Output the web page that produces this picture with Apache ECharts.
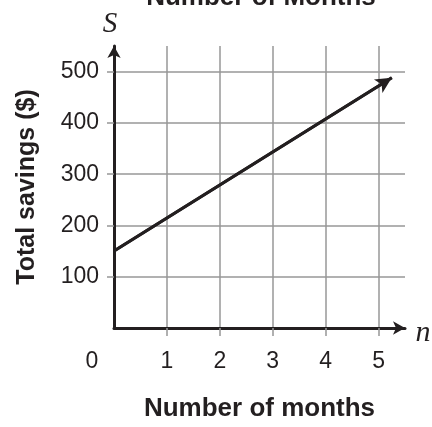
<!DOCTYPE html>
<html lang="en">
<head>
    <meta charset="UTF-8">
    <title>Number of Months</title>
    <script src="https://cdn.jsdelivr.net/npm/echarts@6/dist/echarts.min.js"></script>
    <style>
        html, body { margin: 0; padding: 0; background: #fff; }
        #main { width: 432px; height: 427px; }
    </style>
</head>
<body>
<div id="main"></div>
<script>
    // savings line: starts at 150, grows about 64 a month
    var monthValues = [0, 5.25];
    var savingsValues = [150, 488];
    var xLabelValues = [0, 1, 2, 3, 4, 5];
    var xTickValues = [1, 2, 3, 4, 5];
    var yLabelValues = [100, 200, 300, 400, 500];

    var lineData = monthValues.map(function (m, i) {
        return [m, savingsValues[i]];
    });

    var ink = '#231f20';
    var gridGray = '#979797';
    var sans = 'Liberation Sans';
    var serif = 'Liberation Serif';

    var chart = echarts.init(document.getElementById('main'));

    var option = {
        animation: false,
        grid: { left: 114, top: 46, right: 27, bottom: 90, containLabel: false },
        xAxis: {
            type: 'value',
            min: 0,
            max: 5.5,
            interval: 0.5,
            name: 'Number of months',
            nameLocation: 'middle',
            nameGap: 68,
            nameTextStyle: { fontFamily: sans, fontWeight: 'bold', fontSize: 26, color: ink },
            axisLine: {
                show: true,
                symbol: ['none', 'arrow'],
                symbolSize: [10, 12],
                lineStyle: { color: ink, width: 3 }
            },
            axisTick: {
                show: true,
                customValues: xTickValues,
                length: 8,
                lineStyle: { color: gridGray, width: 1.5 }
            },
            axisLabel: {
                customValues: xLabelValues,
                margin: 22,
                fontFamily: sans,
                fontSize: 23,
                color: ink,
                formatter: function (v) {
                    return v === 0 ? '{z|0}' : String(v);
                },
                rich: {
                    z: { fontFamily: sans, fontSize: 23, color: ink, padding: [0, 44, 0, 0] }
                }
            },
            splitLine: { show: true, lineStyle: { color: gridGray, width: 1.5 } }
        },
        yAxis: {
            type: 'value',
            min: 0,
            max: 550,
            interval: 50,
            name: 'Total savings ($)',
            nameLocation: 'middle',
            nameRotate: 90,
            nameGap: 74,
            nameTextStyle: { fontFamily: sans, fontWeight: 'bold', fontSize: 25, color: ink },
            axisLine: {
                show: true,
                symbol: ['none', 'arrow'],
                symbolSize: [10, 12],
                lineStyle: { color: ink, width: 3 }
            },
            axisTick: {
                show: true,
                customValues: yLabelValues,
                length: 7,
                lineStyle: { color: gridGray, width: 1.5 }
            },
            axisLabel: {
                customValues: yLabelValues,
                margin: 15,
                fontFamily: sans,
                fontSize: 23,
                color: ink
            },
            splitLine: { show: true, lineStyle: { color: gridGray, width: 1.5 } }
        },
        series: [{
            type: 'line',
            data: lineData,
            symbol: 'none',
            lineStyle: { color: ink, width: 3 },
            z: 5,
            markLine: {
                silent: true,
                symbol: ['none', 'arrow'],
                symbolSize: [12, 16],
                label: { show: false },
                lineStyle: { color: ink, width: 3, type: 'solid' },
                data: [[{ coord: lineData[0] }, { coord: lineData[1] }]]
            }
        }],
        graphic: [
            {
                type: 'text', x: 261, y: -2,
                style: {
                    text: 'Number of Months', fontFamily: sans, fontWeight: 'bold', fontSize: 26,
                    fill: ink, align: 'center', verticalAlign: 'middle'
                }
            },
            {
                type: 'text', x: 110, y: 24,
                style: {
                    text: 'S', fontFamily: serif, fontStyle: 'italic', fontSize: 29,
                    fill: ink, align: 'center', verticalAlign: 'middle'
                }
            },
            {
                type: 'text', x: 423, y: 333,
                style: {
                    text: 'n', fontFamily: serif, fontStyle: 'italic', fontSize: 30,
                    fill: ink, align: 'center', verticalAlign: 'middle'
                }
            }
        ]
    };
    chart.setOption(option);
</script>
</body>
</html>
